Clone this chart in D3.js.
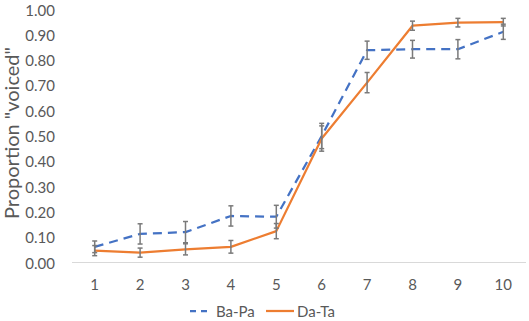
<!DOCTYPE html>
<html>
<head>
<meta charset="utf-8">
<script src="https://cdn.jsdelivr.net/npm/d3@7"></script>
<style>
  html, body { margin: 0; padding: 0; background: #fff; }
  svg { display: block; }
  text { font-family: Lato, "Open Sans", sans-serif; fill: #595959; }
</style>
</head>
<body>
<div id="chart"></div>
<script>
const categories = [1, 2, 3, 4, 5, 6, 7, 8, 9, 10];
const baPa    = [0.062, 0.113, 0.120, 0.184, 0.181, 0.500, 0.839, 0.843, 0.843, 0.912];
const baPaErr = [0.023, 0.040, 0.042, 0.040, 0.045, 0.050, 0.036, 0.035, 0.038, 0.030];
const daTa    = [0.047, 0.039, 0.052, 0.062, 0.124, 0.490, 0.711, 0.936, 0.948, 0.950];
const daTaErr = [0.020, 0.018, 0.022, 0.025, 0.030, 0.050, 0.040, 0.018, 0.017, 0.015];
const yTicks  = [0, 0.1, 0.2, 0.3, 0.4, 0.5, 0.6, 0.7, 0.8, 0.9, 1.0];
const seriesNames = ["Ba-Pa", "Da-Ta"];
const yLabel = 'Proportion "voiced"';

const W = 529, H = 321;
const svg = d3.select("#chart").append("svg").attr("width", W).attr("height", H);

const x = d3.scaleBand().domain(categories).range([72, 526]).padding(0);
const y = d3.scaleLinear().domain([0, 1]).range([262.5, 9.5]);
const cx = d => x(d) + x.bandwidth() / 2;

const series = [
  { name: seriesNames[0], values: baPa, err: baPaErr, color: "#4472C4", dash: "9,6" },
  { name: seriesNames[1], values: daTa, err: daTaErr, color: "#ED7D31", dash: null }
];

// y tick labels
svg.append("g").selectAll("text").data(yTicks).join("text")
  .attr("x", 55).attr("y", d => y(d))
  .attr("text-anchor", "end").attr("dominant-baseline", "central")
  .style("font-size", "15px")
  .text(d => d3.format(".2f")(d));

// x axis line
svg.append("line")
  .attr("x1", x.range()[0]).attr("x2", x.range()[1])
  .attr("y1", y(0)).attr("y2", y(0))
  .attr("stroke", "#d9d9d9").attr("stroke-width", 1);

// x tick labels
svg.append("g").selectAll("text").data(categories).join("text")
  .attr("x", d => cx(d)).attr("y", 284)
  .attr("text-anchor", "middle").attr("dominant-baseline", "central")
  .style("font-size", "15px")
  .text(d => d);

// y axis label
svg.append("text")
  .attr("transform", `translate(19,133) rotate(-90)`)
  .attr("text-anchor", "middle")
  .style("font-size", "20px")
  .text(yLabel);

// lines
const line = d3.line().x((d, i) => cx(categories[i])).y(d => y(d));
series.forEach(s => {
  svg.append("path")
    .datum(s.values)
    .attr("d", line)
    .attr("fill", "none")
    .attr("stroke", s.color)
    .attr("stroke-width", 2.25)
    .attr("stroke-linejoin", "round")
    .attr("stroke-dasharray", s.dash);
});

// error bars
series.forEach(s => {
  const g = svg.append("g").attr("stroke", "#7a7a7a").attr("stroke-width", 1.5);
  s.values.forEach((v, i) => {
    const xc = cx(categories[i]);
    const top = y(v + s.err[i]), bot = y(v - s.err[i]);
    g.append("line").attr("x1", xc).attr("x2", xc).attr("y1", top).attr("y2", bot);
    g.append("line").attr("x1", xc - 2.5).attr("x2", xc + 2.5).attr("y1", top).attr("y2", top);
    g.append("line").attr("x1", xc - 2.5).attr("x2", xc + 2.5).attr("y1", bot).attr("y2", bot);
  });
});

// legend
const legY = 311;
const leg = [
  { s: series[0], x1: 190, x2: 210, tx: 216 },
  { s: series[1], x1: 266, x2: 294, tx: 297 }
];
leg.forEach(l => {
  svg.append("line")
    .attr("x1", l.x1).attr("x2", l.x2).attr("y1", legY).attr("y2", legY)
    .attr("stroke", l.s.color).attr("stroke-width", 2.25)
    .attr("stroke-dasharray", l.s.dash ? "6,5" : null);
  svg.append("text")
    .attr("x", l.tx).attr("y", legY)
    .attr("dominant-baseline", "central")
    .style("font-size", "15px")
    .text(l.s.name);
});
</script>
</body>
</html>
